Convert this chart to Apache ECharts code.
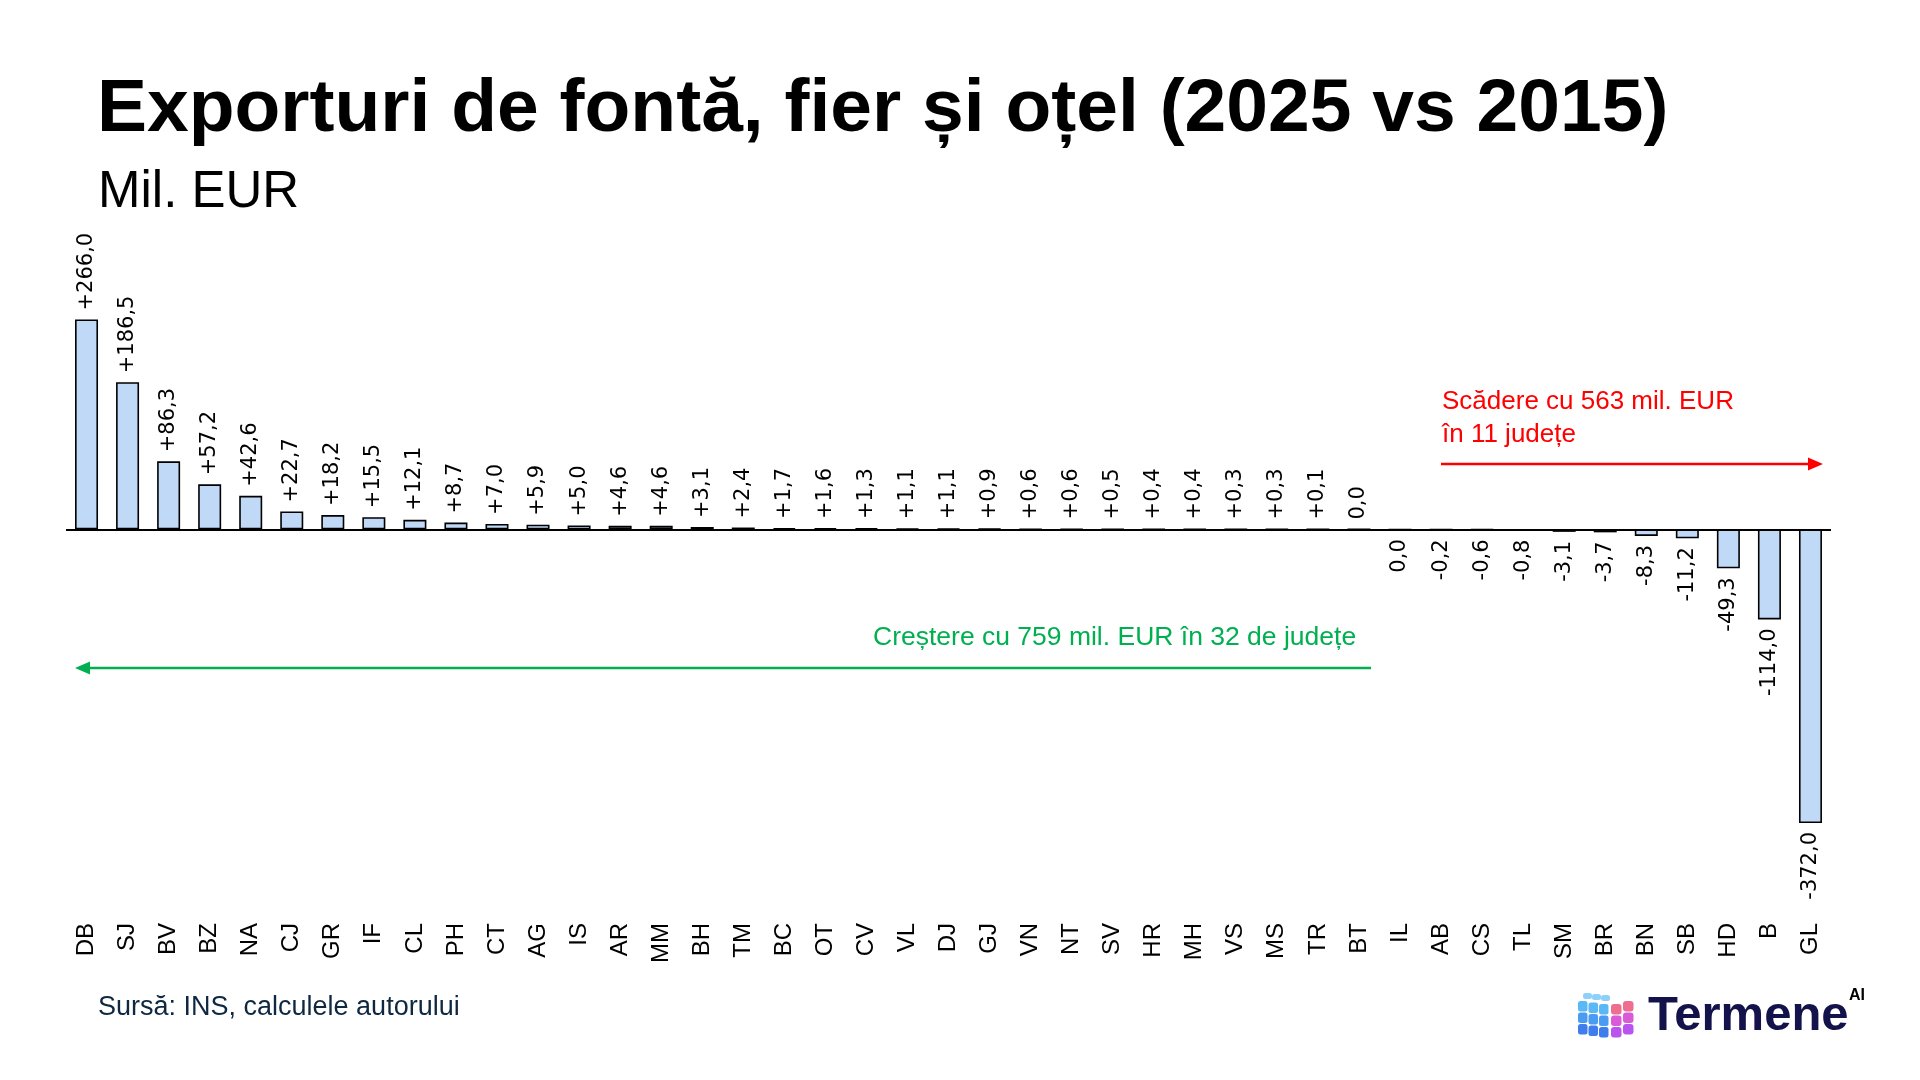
<!DOCTYPE html>
<html>
<head>
<meta charset="utf-8">
<script src="https://cdn.jsdelivr.net/npm/echarts@6/dist/echarts.min.js"></script>
<style>
html,body{margin:0;padding:0;background:#fff;}
#chart{width:1920px;height:1080px;}
</style>
</head>
<body>
<div id="chart"></div>
<script>
const titleText = 'Exporturi de fontă, fier și oțel (2025 vs 2015)';
const subtitleText = 'Mil. EUR';
const sourceText = 'Sursă: INS, calculele autorului';
const increaseNote = 'Creștere cu 759 mil. EUR în 32 de județe';
const decreaseNote = 'Scădere cu 563 mil. EUR\nîn 11 județe';

const categories = ['DB','SJ','BV','BZ','NA','CJ','GR','IF','CL','PH','CT','AG','IS','AR','MM','BH','TM','BC','OT','CV','VL','DJ','GJ','VN','NT','SV','HR','MH','VS','MS','TR','BT','IL','AB','CS','TL','SM','BR','BN','SB','HD','B','GL'];
const values = [266.0,186.5,86.3,57.2,42.6,22.7,18.2,15.5,12.1,8.7,7.0,5.9,5.0,4.6,4.6,3.1,2.4,1.7,1.6,1.3,1.1,1.1,0.9,0.6,0.6,0.5,0.4,0.4,0.3,0.3,0.1,0.02,-0.02,-0.2,-0.6,-0.8,-3.1,-3.7,-8.3,-11.2,-49.3,-114.0,-372.0];

const chart = echarts.init(document.getElementById('chart'));

function fmt(v){
  const s = Math.abs(v).toFixed(1).replace('.', ',');
  if (Math.abs(v) < 0.05) return s;
  return (v > 0 ? '+' : '-') + s;
}

const barData = values.map(v => ({
  value: v,
  label: {
    position: v < 0 ? 'bottom' : 'top',
    align: v < 0 ? 'right' : 'left',
    verticalAlign: 'middle'
  }
}));

const iconRects = [];
// simple cube-like icon of rounded squares
const blue = ['#5AB8F7','#4A9CF3','#3E7DEE'];
const pink = ['#EE6E8F','#D95BD8','#B955EE'];
for (let r = 0; r < 3; r++) {
  for (let c = 0; c < 3; c++) {
    iconRects.push({type:'rect', shape:{x:1578 + c*10.5, y:1001 + r*11.5 + c*1.5, width:9.5, height:10.5, r:2.5}, style:{fill: blue[r]}, z:10});
  }
  for (let c = 0; c < 2; c++) {
    iconRects.push({type:'rect', shape:{x:1611 + c*12, y:1004 + r*11.5 - c*3, width:10.5, height:10.5, r:3}, style:{fill: pink[r]}, z:10});
  }
}
for (let c = 0; c < 3; c++) {
  iconRects.push({type:'rect', shape:{x:1583 + c*9, y:993 + c*1, width:9, height:6, r:2.5}, style:{fill:'#8FD0FA'}, z:10});
}

chart.setOption({
  animation: false,
  backgroundColor: '#ffffff',
  title: [
    {text: titleText, left: 97, top: 73, padding: 0,
     textStyle:{fontFamily:'"Liberation Sans", Arial, sans-serif', fontWeight:'bold', fontSize:75, color:'#000', lineHeight:75}},
    {text: subtitleText, left: 98, top: 167, padding: 0,
     textStyle:{fontFamily:'"Liberation Sans", Arial, sans-serif', fontWeight:'normal', fontSize:51, color:'#000', lineHeight:51}}
  ],
  grid: {left: 66, right: 89, top: 319.5, bottom: 257, containLabel: false},
  xAxis: {
    type: 'category',
    data: categories,
    position: 'bottom',
    axisLine: {show: false, onZero: false},
    axisTick: {show: false},
    axisLabel: {interval: 0, rotate: 90, margin: 100, fontSize: 24, color: '#000',
      fontFamily: '"Liberation Sans", Arial, sans-serif'}
  },
  yAxis: {
    type: 'value', min: -372, max: 266, show: false,
    splitLine: {show: false}
  },
  series: [{
    type: 'bar',
    data: barData,
    barWidth: 23,
    itemStyle: {color: '#BFD9F7', borderColor: '#000', borderWidth: 1.6},
    label: {
      show: true, rotate: 90, distance: 9, fontSize: 21, color: '#000',
      fontFamily: '"DejaVu Sans", sans-serif',
      formatter: p => fmt(p.value)
    },
    markLine: {
      silent: true, symbol: ['none','none'], label: {show: false},
      lineStyle: {color: '#000', width: 2, type: 'solid'},
      data: [{yAxis: 0}],
      z: 5
    }
  }],
  graphic: [
    {type:'text', left: 1442, top: 385, style:{text: decreaseNote, fill:'#FF0000', fontSize: 26, lineHeight: 33,
      fontFamily:'"Liberation Sans", Arial, sans-serif'}},
    {type:'line', shape:{x1:1441, y1:464, x2:1812, y2:464}, style:{stroke:'#FF0000', lineWidth:2.5}},
    {type:'polygon', shape:{points:[[1823,464],[1808,457.5],[1808,470.5]]}, style:{fill:'#FF0000'}},
    {type:'text', left: 873, top: 624, style:{text: increaseNote, fill:'#00B050', fontSize: 26.5,
      fontFamily:'"Liberation Sans", Arial, sans-serif'}},
    {type:'line', shape:{x1:1371, y1:668, x2:86, y2:668}, style:{stroke:'#00B050', lineWidth:2.5}},
    {type:'polygon', shape:{points:[[75,668],[90,661.5],[90,674.5]]}, style:{fill:'#00B050'}},
    {type:'text', left: 98, top: 994, style:{text: sourceText, fill:'#0E2841', fontSize: 27,
      fontFamily:'"Liberation Sans", Arial, sans-serif'}},
    {type:'text', left: 1648, top: 992, style:{text:'Termene', fill:'#14124B', fontSize: 49, fontWeight:'bold',
      fontFamily:'"Liberation Sans", Arial, sans-serif'}},
    {type:'text', left: 1849, top: 988, style:{text:'AI', fontSize: 16, fontWeight:'bold',
      fill: new echarts.graphic.LinearGradient(0,0,1,1,[{offset:0,color:'#F59A23'},{offset:1,color:'#A23BE8'}]),
      fontFamily:'"Liberation Sans", Arial, sans-serif'}}
  ].concat(iconRects)
});
</script>
</body>
</html>
